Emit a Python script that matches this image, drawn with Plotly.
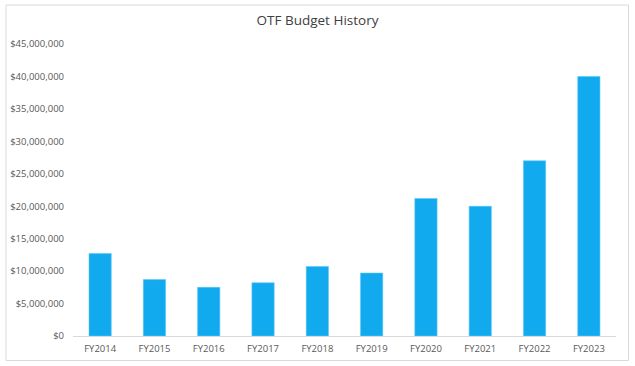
import plotly.graph_objects as go

categories = ["FY2014", "FY2015", "FY2016", "FY2017", "FY2018",
              "FY2019", "FY2020", "FY2021", "FY2022", "FY2023"]
budget = [12700000, 8700000, 7500000, 8200000, 10700000,
          9700000, 21200000, 20000000, 27000000, 40000000]
y_ticks = [0, 5000000, 10000000, 15000000, 20000000, 25000000,
           30000000, 35000000, 40000000, 45000000]
y_tick_labels = ["$0", "$5,000,000", "$10,000,000", "$15,000,000", "$20,000,000",
                 "$25,000,000", "$30,000,000", "$35,000,000", "$40,000,000", "$45,000,000"]

W, H = 635, 366
ml, mr, mt, mb = 73, 19, 44, 30
pw, ph = W - ml - mr, H - mt - mb

def px_to_paper_x(x):
    return (x - ml) / pw

def px_to_paper_y(y):
    return (H - mb - y) / ph

fig = go.Figure(go.Bar(
    x=categories, y=budget,
    marker=dict(color="#12aaef", line=dict(color="#5cc8f5", width=0.6)),
    width=0.41,
))

fig.update_layout(
    width=W, height=H,
    margin=dict(l=ml, r=mr, t=mt, b=mb, autoexpand=False),
    paper_bgcolor="white", plot_bgcolor="white",
    font=dict(family="Open Sans, Liberation Sans, sans-serif", color="#595959", size=9.5),
    title=dict(text="OTF Budget History", x=0.5, xanchor="center", xref="container",
               yref="container", y=1 - 20 / H, yanchor="middle", automargin=False,
               font=dict(size=13.5, color="#404040")),
    showlegend=False,
    bargap=0.59,
    shapes=[dict(type="rect", xref="paper", yref="paper",
                 x0=px_to_paper_x(6), x1=px_to_paper_x(628.5),
                 y0=px_to_paper_y(360.5), y1=px_to_paper_y(5),
                 line=dict(color="#d9d9d9", width=1), fillcolor="rgba(0,0,0,0)",
                 layer="below")],
)
fig.update_xaxes(showline=True, linecolor="#d9d9d9", linewidth=1, automargin=False,
                 ticks="", showgrid=False, ticklabelstandoff=4,
                 tickfont=dict(size=9.5, color="#595959"))
fig.update_yaxes(range=[0, 45000000], tickvals=y_ticks, ticktext=y_tick_labels,
                 showgrid=False, zeroline=False, showline=False, ticks="",
                 automargin=False, ticklabelstandoff=8,
                 tickfont=dict(size=9.5, color="#595959"))

fig.write_html("out.html", config={"displayModeBar": False},
               post_script="document.body.style.margin='0';")
